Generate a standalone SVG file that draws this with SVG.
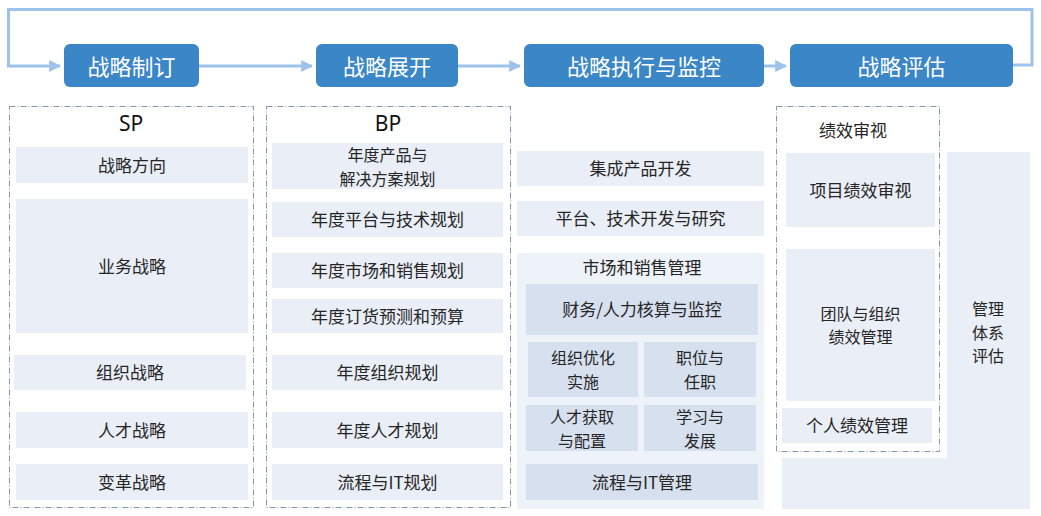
<svg xmlns="http://www.w3.org/2000/svg" width="1041" height="516" viewBox="0 0 1041 516">
<defs>
<marker id="ah" viewBox="0 0 10 10" refX="9" refY="5" markerWidth="4" markerHeight="4" orient="auto" markerUnits="strokeWidth">
<path d="M0,0 L10,5 L0,10 z" fill="#9DC3EC"/>
</marker>
<style>
.hdr{fill:#3A86C7}
.ht{font-family:"Noto Sans CJK SC","Noto Sans",sans-serif;font-size:22px;fill:#ffffff;text-anchor:middle;dominant-baseline:central}
.t{font-family:"Noto Sans CJK SC","Noto Sans",sans-serif;font-size:17px;fill:#262626;text-anchor:middle;dominant-baseline:central}
.m{font-size:16px}
.big{font-family:"Noto Sans","Noto Sans CJK SC",sans-serif;font-size:21px;fill:#111111;text-anchor:middle;dominant-baseline:central}
.c1{fill:#E9EEF7}
.c0{fill:#EEF2F9}
.c2{fill:#D7E0EF}
.dash{fill:none;stroke:#8497B0;stroke-width:1;stroke-dasharray:6 2 1 2}
.con{fill:none;stroke:#9DC3EC;stroke-width:3}
</style>
</defs>
<rect width="1041" height="516" fill="#ffffff"/>

<g id="connectors">
<polyline class="con" points="1013,65 1032,65 1032,9.5 8.5,9.5 8.5,66 60,66" marker-end="url(#ah)"/>
<line class="con" x1="199" y1="66" x2="312" y2="66" marker-end="url(#ah)"/>
<line class="con" x1="458" y1="66" x2="520" y2="66" marker-end="url(#ah)"/>
<line class="con" x1="764" y1="66" x2="786" y2="66" marker-end="url(#ah)"/>
</g>

<g id="h1"><rect class="hdr" x="64" y="44" width="135" height="43" rx="6"/><text class="ht" x="131.5" y="65">战略制订</text></g>
<g id="h2"><rect class="hdr" x="316" y="44" width="142" height="43" rx="6"/><text class="ht" x="387" y="65">战略展开</text></g>
<g id="h3"><rect class="hdr" x="524" y="44" width="240" height="43" rx="6"/><text class="ht" x="644" y="65">战略执行与监控</text></g>
<g id="h4"><rect class="hdr" x="790" y="44" width="223" height="43" rx="6"/><text class="ht" x="901.5" y="65">战略评估</text></g>

<g id="sp">
<rect class="dash" x="9.5" y="106.5" width="244" height="401"/>
<text class="big" x="131" y="123">SP</text>
<g id="sp1"><rect class="c1" x="16" y="147" width="232" height="36"/><text class="t" x="132" y="164">战略方向</text></g>
<g id="sp2"><rect class="c1" x="16" y="199" width="232" height="134"/><text class="t" x="132" y="265">业务战略</text></g>
<g id="sp3"><rect class="c1" x="14" y="355" width="232" height="35"/><text class="t" x="130" y="371.5">组织战略</text></g>
<g id="sp4"><rect class="c1" x="16" y="412" width="232" height="36"/><text class="t" x="132" y="429">人才战略</text></g>
<g id="sp5"><rect class="c1" x="16" y="464" width="232" height="36"/><text class="t" x="132" y="481">变革战略</text></g>
</g>

<g id="bp">
<rect class="dash" x="266.5" y="106.5" width="244" height="401"/>
<text class="big" x="388" y="123">BP</text>
<g id="bp1"><rect class="c1" x="272" y="143" width="231" height="46"/><text class="t m" x="387.5" y="154">年度产品与<tspan x="387.5" dy="23.5">解决方案规划</tspan></text></g>
<g id="bp2"><rect class="c1" x="272" y="202" width="231" height="35"/><text class="t" x="387.5" y="218.5">年度平台与技术规划</text></g>
<g id="bp3"><rect class="c1" x="272" y="253" width="231" height="35"/><text class="t" x="387.5" y="269.5">年度市场和销售规划</text></g>
<g id="bp4"><rect class="c1" x="272" y="299" width="231" height="34"/><text class="t" x="387.5" y="315">年度订货预测和预算</text></g>
<g id="bp5"><rect class="c1" x="272" y="355" width="231" height="35"/><text class="t" x="387.5" y="371.5">年度组织规划</text></g>
<g id="bp6"><rect class="c1" x="272" y="412" width="231" height="36"/><text class="t" x="387.5" y="429">年度人才规划</text></g>
<g id="bp7"><rect class="c1" x="272" y="464" width="231" height="36"/><text class="t" x="387.5" y="481">流程与IT规划</text></g>
</g>

<g id="exec">
<g id="ex1"><rect class="c1" x="517" y="151" width="247" height="35"/><text class="t" x="640.5" y="167.5">集成产品开发</text></g>
<g id="ex2"><rect class="c1" x="517" y="201" width="247" height="35"/><text class="t" x="640.5" y="217.5">平台、技术开发与研究</text></g>
<g id="ex3"><rect class="c0" x="517" y="253" width="247" height="256"/><text class="t" x="642" y="266">市场和销售管理</text></g>
<g id="ex4"><rect class="c2" x="526" y="284" width="232" height="51"/><text class="t" x="642" y="308.5">财务/人力核算与监控</text></g>
<g id="ex5"><rect class="c2" x="528" y="342" width="110" height="55"/><text class="t m" x="583" y="357">组织优化<tspan x="583" dy="23.5">实施</tspan></text></g>
<g id="ex6"><rect class="c2" x="644" y="342" width="112" height="55"/><text class="t m" x="700" y="357">职位与<tspan x="700" dy="23.5">任职</tspan></text></g>
<g id="ex7"><rect class="c2" x="526" y="405" width="112" height="46"/><text class="t m" x="582" y="416">人才获取<tspan x="582" dy="23.5">与配置</tspan></text></g>
<g id="ex8"><rect class="c2" x="644" y="405" width="112" height="46"/><text class="t m" x="700" y="416">学习与<tspan x="700" dy="23.5">发展</tspan></text></g>
<g id="ex9"><rect class="c2" x="526" y="464" width="232" height="36"/><text class="t" x="642" y="481">流程与IT管理</text></g>
</g>

<g id="eval">
<rect class="c1" x="782" y="458" width="165" height="51"/>
<g id="ev5"><rect class="c1" x="947" y="152" width="83" height="357"/><text class="t m" x="988" y="308">管理<tspan x="988" dy="23.5">体系</tspan><tspan x="988" dy="23.5">评估</tspan></text></g>
<rect x="776.5" y="106.5" width="163" height="345" fill="#ffffff"/>
<rect class="dash" x="776.5" y="106.5" width="163" height="345"/>
<text class="t" x="853" y="129">绩效审视</text>
<g id="ev2"><rect class="c1" x="786" y="153" width="149" height="74"/><text class="t" x="860.5" y="189">项目绩效审视</text></g>
<g id="ev3"><rect class="c1" x="786" y="249" width="149" height="152"/><text class="t m" x="860.5" y="312.5">团队与组织<tspan x="860.5" dy="23.5">绩效管理</tspan></text></g>
<g id="ev4"><rect class="c1" x="782" y="408" width="150" height="35"/><text class="t" x="857" y="424.5">个人绩效管理</text></g>
</g>
</svg>
